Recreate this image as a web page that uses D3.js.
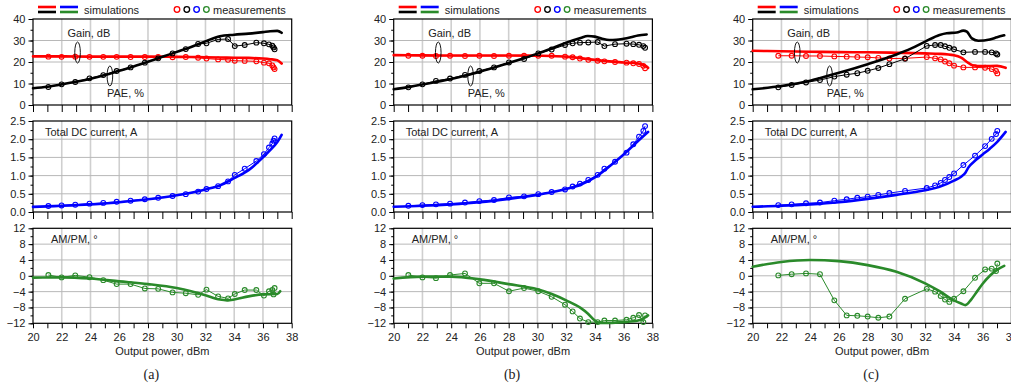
<!DOCTYPE html>
<html>
<head>
<meta charset="utf-8">
<script src="https://cdn.jsdelivr.net/npm/d3@7"></script>
<style>
  body { margin: 0; background: #fff; }
  svg { display: block; font-family: "Liberation Sans", Arial, sans-serif; }
  .tick text { font-size: 11px; fill: #222; }
</style>
</head>
<body>
<div id="chart"></div>
<script>
// ---- panel (a) measurements ----
const measPowerA = [21.07, 21.99, 22.94, 23.93, 24.89, 25.82, 26.79, 27.78, 28.71, 29.71, 30.63, 31.49, 32.07, 32.88, 33.57, 34.04, 34.73, 35.54, 36.07, 36.42, 36.65, 36.74, 36.81];
const measGainA = [22.5, 22.4, 22.5, 22.4, 22.4, 22.4, 22.3, 22.3, 22.3, 22.2, 22.3, 22.0, 21.6, 21.2, 21.0, 20.6, 20.5, 20.3, 19.7, 19.4, 18.4, 17.5, 16.7];
const measPaeA = [8.4, 9.6, 10.7, 12.4, 13.9, 15.8, 17.5, 19.7, 21.7, 24.0, 26.0, 28.4, 28.7, 30.5, 30.7, 27.4, 27.9, 29.0, 28.7, 28.2, 27.6, 26.8, 25.9];
const measIdcA = [0.165, 0.18, 0.2, 0.23, 0.25, 0.28, 0.31, 0.35, 0.39, 0.44, 0.49, 0.56, 0.63, 0.71, 0.84, 1.02, 1.19, 1.40, 1.59, 1.77, 1.88, 1.96, 2.02];
const measPmA = [0.2, -0.4, 0.1, -0.35, -1.1, -2.1, -2.1, -3.2, -3.3, -4.2, -4.4, -4.8, -3.5, -5.2, -5.7, -4.6, -3.6, -3.6, -5.0, -3.9, -3.6, -4.7, -3.1];
// ---- panel (a) simulations ----
const simGainXA = [20, 22, 24, 26, 28, 30, 31, 32, 33, 34, 35, 36, 36.5, 37, 37.3];
const simGainA = [22.6, 22.6, 22.5, 22.5, 22.5, 22.4, 22.3, 22.2, 22.1, 22.0, 21.9, 21.6, 21.3, 20.8, 19.3];
const simPaeXA = [20, 21, 22, 23, 24, 25, 26, 27, 28, 29, 30, 31, 32, 33, 34, 35, 36, 36.5, 37, 37.3];
const simPaeA = [7.8, 8.5, 9.6, 10.8, 12.2, 13.9, 15.9, 17.9, 20.1, 22.4, 24.7, 27.0, 29.6, 32.0, 32.7, 33.2, 33.9, 34.3, 34.5, 33.6];
const simIdcXA = [20, 21, 22, 23, 24, 25, 26, 27, 28, 29, 30, 31, 32, 33, 34, 35, 36, 36.5, 37, 37.3];
const simIdcA = [0.14, 0.155, 0.17, 0.19, 0.21, 0.235, 0.27, 0.31, 0.35, 0.4, 0.46, 0.53, 0.62, 0.73, 0.93, 1.15, 1.5, 1.7, 1.92, 2.12];
const simPmXA = [20, 22, 24, 26, 28, 30, 31, 32, 33, 33.5, 34, 35, 36, 37, 37.2];
const simPmA = [-0.45, -0.4, -0.7, -1.4, -2.1, -3.1, -3.9, -4.9, -6.0, -6.2, -6.0, -5.2, -4.7, -4.6, -3.9];

// ---- panel (b) measurements ----
const measPowerB = [21.02, 22.0, 22.94, 23.92, 24.96, 25.96, 26.98, 28.02, 29.07, 30.06, 30.99, 31.92, 32.45, 32.96, 33.54, 34.19, 34.66, 35.4, 36.2, 36.67, 37.07, 37.37, 37.49];
const measGainB = [22.9, 22.9, 22.8, 22.9, 22.8, 22.9, 22.8, 22.9, 22.9, 22.9, 22.9, 22.5, 22.2, 21.6, 21.0, 20.6, 20.3, 20.0, 19.7, 19.4, 19.1, 18.2, 17.1];
const measPaeB = [8.2, 9.6, 11.2, 12.3, 14.0, 15.8, 17.5, 19.8, 21.4, 24.0, 25.8, 27.9, 28.7, 29.0, 29.1, 29.3, 27.4, 28.3, 28.5, 28.3, 28.0, 27.4, 26.6];
const measIdcB = [0.17, 0.19, 0.21, 0.23, 0.26, 0.30, 0.33, 0.40, 0.43, 0.49, 0.55, 0.62, 0.70, 0.78, 0.88, 1.02, 1.19, 1.38, 1.63, 1.86, 2.07, 2.23, 2.36];
const measPmB = [0.2, -0.4, -0.6, 0.2, 0.6, -1.9, -1.9, -3.9, -3.1, -3.9, -5.3, -7.3, -9.0, -10.8, -11.7, -11.7, -11.3, -11.3, -11.1, -10.6, -9.9, -11.7, -10.0];
// ---- panel (b) simulations ----
const simGainXB = [20, 22, 24, 26, 28, 30, 31, 32, 33, 34, 35, 36, 37, 37.5, 37.7];
const simGainB = [23.2, 23.1, 23.0, 23.0, 23.0, 22.9, 22.8, 22.5, 21.8, 21.0, 20.3, 19.8, 19.3, 18.3, 17.3];
const simPaeXB = [20, 21, 22, 23, 24, 25, 26, 27, 28, 29, 30, 31, 32, 33, 33.5, 34, 34.5, 35, 35.5, 36, 36.5, 37, 37.6];
const simPaeB = [7.3, 8.3, 9.5, 10.8, 12.1, 13.7, 15.5, 17.4, 19.5, 21.6, 23.9, 26.3, 29.0, 31.2, 32.1, 31.8, 30.8, 30.2, 30.3, 30.8, 31.5, 32.3, 32.8];
const simIdcXB = [20, 22, 24, 26, 28, 30, 31, 32, 33, 34, 35, 36, 37, 37.7];
const simIdcB = [0.146, 0.17, 0.21, 0.27, 0.36, 0.47, 0.54, 0.63, 0.75, 0.95, 1.25, 1.58, 1.95, 2.2];
const simPmXB = [20, 22, 24, 26, 28, 30, 31, 32, 33, 33.5, 34, 34.3, 35, 36, 37, 37.7];
const simPmB = [-0.7, -0.2, -0.2, -0.9, -2.1, -3.4, -4.6, -6.2, -8.1, -9.5, -11.3, -11.9, -11.9, -11.7, -11.3, -10.0];

// ---- panel (c) measurements ----
const measPowerC = [21.78, 22.71, 23.71, 24.68, 25.68, 26.54, 27.28, 28.0, 28.74, 29.51, 30.6, 32.11, 32.69, 33.08, 33.38, 33.68, 34.01, 34.66, 35.47, 36.17, 36.63, 36.93, 37.02];
const measGainC = [22.9, 22.9, 22.8, 22.8, 22.6, 22.5, 22.3, 22.2, 21.9, 21.6, 21.7, 22.3, 21.7, 21.2, 20.2, 19.4, 18.3, 17.5, 17.5, 17.3, 16.7, 15.8, 14.7];
const measPaeC = [8.2, 9.3, 10.5, 11.6, 13.2, 14.1, 14.8, 15.9, 17.2, 19.0, 21.5, 27.5, 27.9, 27.9, 27.3, 26.6, 25.9, 24.5, 24.7, 24.7, 24.5, 24.0, 23.5];
const measIdcC = [0.19, 0.21, 0.24, 0.26, 0.31, 0.35, 0.39, 0.42, 0.47, 0.52, 0.58, 0.66, 0.73, 0.80, 0.88, 0.96, 1.06, 1.29, 1.55, 1.81, 2.01, 2.14, 2.23];
const measPmC = [0.1, 0.4, 0.6, 0.4, -6.2, -10.0, -10.1, -10.3, -10.6, -10.3, -5.8, -3.3, -4.0, -5.1, -6.0, -6.6, -5.8, -3.9, -0.5, 1.6, 1.8, 1.2, 3.1];
// ---- panel (c) simulations ----
const simGainXC = [20, 22, 24, 26, 28, 30, 32, 33, 34, 34.5, 35, 35.3, 36, 37, 37.6];
const simGainC = [25.2, 25.0, 24.8, 24.6, 24.5, 24.3, 24.0, 23.8, 23.1, 22.0, 19.6, 18.5, 18.1, 18.2, 17.3];
const simPaeXC = [20, 22, 24, 26, 28, 30, 31, 32, 33, 33.5, 34.2, 34.65, 34.9, 35.25, 35.7, 36.5, 37, 37.5];
const simPaeC = [7.3, 8.8, 11.3, 15.0, 19.0, 23.5, 26.2, 29.5, 32.6, 33.4, 33.7, 34.6, 34.1, 31.0, 29.9, 30.5, 31.5, 32.4];
const simIdcXC = [20, 22, 24, 26, 28, 30, 32, 33, 34, 34.5, 34.8, 35, 35.5, 36, 36.5, 37, 37.6];
const simIdcC = [0.146, 0.17, 0.21, 0.27, 0.36, 0.47, 0.6, 0.69, 0.86, 0.97, 1.08, 1.22, 1.42, 1.58, 1.74, 1.92, 2.2];
const simPmXC = [20, 22, 24, 26, 28, 30, 32, 33, 34, 34.5, 34.8, 35.2, 35.6, 36, 36.5, 37, 37.5];
const simPmC = [2.3, 3.5, 4.0, 3.7, 2.7, 1.0, -1.9, -3.9, -6.2, -7.0, -7.4, -6.0, -4.0, -2.0, 0.0, 1.5, 2.5];

// ---- axes / labels ----
const xTicks = [20, 22, 24, 26, 28, 30, 32, 34, 36, 38];
const gainTicks = [0, 10, 20, 30, 40];
const idcTicks = [0, 0.5, 1.0, 1.5, 2.0, 2.5];
const pmTicks = [-12, -8, -4, 0, 4, 8, 12];
const panelLabels = ["(a)", "(b)", "(c)"];
const measColors = ["#ff0000", "#000000", "#0000ff", "#2a8a2a"];

const colors = { gain: "#ff0000", pae: "#000000", idc: "#0000ff", pm: "#2a8a2a" };

const panels = [
  { label: panelLabels[0], left: 33, mx: measPowerA,
    meas: { gain: measGainA, pae: measPaeA, idc: measIdcA, pm: measPmA },
    sim: { gain: [simGainXA, simGainA], pae: [simPaeXA, simPaeA], idc: [simIdcXA, simIdcA], pm: [simPmXA, simPmA] } },
  { label: panelLabels[1], left: 393.7, mx: measPowerB,
    meas: { gain: measGainB, pae: measPaeB, idc: measIdcB, pm: measPmB },
    sim: { gain: [simGainXB, simGainB], pae: [simPaeXB, simPaeB], idc: [simIdcXB, simIdcB], pm: [simPmXB, simPmB] } },
  { label: panelLabels[2], left: 752.7, mx: measPowerC,
    meas: { gain: measGainC, pae: measPaeC, idc: measIdcC, pm: measPmC },
    sim: { gain: [simGainXC, simGainC], pae: [simPaeXC, simPaeC], idc: [simIdcXC, simIdcC], pm: [simPmXC, simPmC] } }
];

const rows = [
  { top: 19, bottom: 105, domain: [0, 40], ticks: gainTicks, minor: d3.range(0, 41, 5), fmt: d3.format("d"), keys: ["gain", "pae"], xTick: 7 },
  { top: 121, bottom: 212, domain: [0, 2.5], ticks: idcTicks, minor: d3.range(0, 2.51, 0.25), fmt: d3.format(".1f"), keys: ["idc"], xTick: 7, title: "Total DC current, A", titleDx: 12 },
  { top: 228.3, bottom: 323.3, domain: [-12, 12], ticks: pmTicks, minor: d3.range(-12, 13, 2), fmt: d3.format("d"), keys: ["pm"], xTick: 5, title: "AM/PM, \u00b0", titleDx: 18 }
];

const width = 1011, height = 387;
const plotW = 258.7;

const svg = d3.select("#chart").append("svg")
  .attr("width", width)
  .attr("height", height);

panels.forEach(p => {
  const x = d3.scaleLinear().domain([20, 38]).range([p.left, p.left + plotW]);

  rows.forEach((r, ri) => {
    const y = d3.scaleLinear().domain(r.domain).range([r.bottom, r.top]);
    const g = svg.append("g");

    // grid
    g.append("g").selectAll("line").data(xTicks.slice(1, -1)).join("line")
      .attr("x1", d => x(d)).attr("x2", d => x(d))
      .attr("y1", r.top).attr("y2", r.bottom)
      .attr("stroke", "#cfcfcf").attr("stroke-width", 1.6);
    g.append("g").selectAll("line").data(r.ticks.slice(1, -1)).join("line")
      .attr("x1", p.left).attr("x2", p.left + plotW)
      .attr("y1", d => y(d)).attr("y2", d => y(d))
      .attr("stroke", "#b8b8b8").attr("stroke-width", 1);

    // x axis (ticks every 1 dBm, labels only on the last row)
    const xAxis = d3.axisBottom(x)
      .tickValues(d3.range(20, 38.5, 1))
      .tickSize(r.xTick)
      .tickPadding(5)
      .tickFormat(d => (ri === 2 && d % 2 === 0) ? d : "");
    g.append("g")
      .attr("transform", `translate(0,${r.bottom})`)
      .call(xAxis)
      .call(a => a.select(".domain").remove());

    // y axis, minor then major
    g.append("g")
      .attr("transform", `translate(${p.left},0)`)
      .call(d3.axisLeft(y).tickValues(r.minor).tickSize(2.5).tickFormat(""))
      .call(a => a.select(".domain").remove());
    g.append("g")
      .attr("transform", `translate(${p.left},0)`)
      .call(d3.axisLeft(y).tickValues(r.ticks).tickSize(4.5).tickPadding(3).tickFormat(r.fmt))
      .call(a => a.select(".domain").remove());

    // frame
    g.append("rect")
      .attr("x", p.left).attr("y", r.top)
      .attr("width", plotW).attr("height", r.bottom - r.top)
      .attr("fill", "none").attr("stroke", "#000").attr("stroke-width", 1.2);

    if (r.title) {
      g.append("text")
        .attr("x", p.left + r.titleDx).attr("y", r.top + 14.5)
        .attr("font-size", 11).attr("fill", "#222")
        .text(r.title);
    }

    const simLine = d3.line()
      .x(d => x(d[0])).y(d => y(d[1]))
      .curve(d3.curveMonotoneX);
    const measLine = d3.line()
      .x(d => x(d[0])).y(d => y(d[1]));

    r.keys.forEach(k => {
      const c = colors[k];
      const simPts = d3.zip(p.sim[k][0], p.sim[k][1]);
      const measPts = d3.zip(p.mx, p.meas[k]);

      g.append("path")
        .datum(measPts)
        .attr("fill", "none")
        .attr("stroke", c)
        .attr("stroke-width", 1)
        .attr("d", measLine);

      g.append("path")
        .datum(simPts)
        .attr("fill", "none")
        .attr("stroke", c)
        .attr("stroke-width", 2.6)
        .attr("stroke-linejoin", "round")
        .attr("stroke-linecap", "round")
        .attr("d", simLine);

      g.append("g").selectAll("circle").data(measPts).join("circle")
        .attr("cx", d => x(d[0])).attr("cy", d => y(d[1]))
        .attr("r", 2.4)
        .attr("fill", "none")
        .attr("stroke", c)
        .attr("stroke-width", 1.1);
    });

    // Gain / PAE callouts on the top row
    if (ri === 0) {
      g.append("ellipse")
        .attr("cx", x(23.1)).attr("cy", y(24.4))
        .attr("rx", 2.8).attr("ry", 10.5)
        .attr("fill", "none").attr("stroke", "#000").attr("stroke-width", 0.9);
      g.append("text")
        .attr("x", x(22.4)).attr("y", y(31.6))
        .attr("font-size", 11).attr("fill", "#222")
        .text("Gain, dB");
      g.append("ellipse")
        .attr("cx", x(25.35)).attr("cy", y(13.5))
        .attr("rx", 2.8).attr("ry", 10)
        .attr("fill", "none").attr("stroke", "#000").attr("stroke-width", 0.9);
      g.append("text")
        .attr("x", x(25.15)).attr("y", y(3.7))
        .attr("font-size", 11).attr("fill", "#222")
        .text("PAE, %");
    }
  });

  // legend
  const lg = svg.append("g").attr("transform", `translate(${p.left + 5},0)`);
  [[colors.gain, 0, 7], [colors.idc, 22, 7], [colors.pae, 0, 12], [colors.pm, 22, 12]].forEach(([c, dx, yy]) => {
    lg.append("line")
      .attr("x1", dx).attr("x2", dx + 18)
      .attr("y1", yy).attr("y2", yy)
      .attr("stroke", c).attr("stroke-width", 2.6);
  });
  lg.append("text")
    .attr("x", 46).attr("y", 13.5)
    .attr("font-size", 11).attr("fill", "#222")
    .text("simulations");
  lg.selectAll("circle").data(measColors).join("circle")
    .attr("cx", (d, i) => 139 + i * 9.8).attr("cy", 9.5)
    .attr("r", 2.8)
    .attr("fill", "none").attr("stroke", d => d).attr("stroke-width", 1.3);
  lg.append("text")
    .attr("x", 175).attr("y", 13.5)
    .attr("font-size", 11).attr("fill", "#222")
    .text("measurements");

  // x title and panel label
  svg.append("text")
    .attr("x", p.left + plotW / 2).attr("y", 355)
    .attr("text-anchor", "middle")
    .attr("font-size", 11).attr("fill", "#222")
    .text("Output power, dBm");
  svg.append("text")
    .attr("x", p.left + plotW / 2 - 11).attr("y", 379)
    .attr("text-anchor", "middle")
    .attr("font-family", "'Liberation Serif', 'Times New Roman', serif")
    .attr("font-size", 14).attr("fill", "#222")
    .text(p.label);
});
</script>
</body>
</html>
